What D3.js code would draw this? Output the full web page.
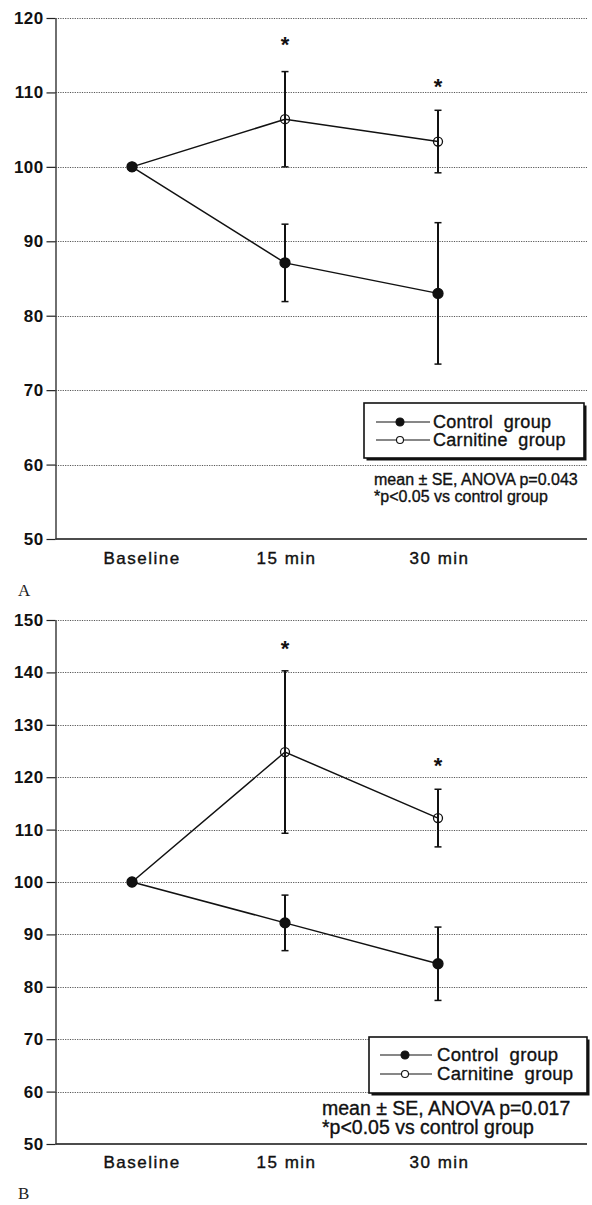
<!DOCTYPE html>
<html>
<head>
<meta charset="utf-8">
<script src="https://cdn.jsdelivr.net/npm/d3@7"></script>
<style>
  body { margin: 0; background: #fff; }
  svg { display: block; }
  text { font-family: "Liberation Sans", Arial, sans-serif; fill: #111; white-space: pre; }
  .heavy { stroke: #111; stroke-width: 0.35px; }
  .tick-label { font-size: 17px; font-weight: bold; letter-spacing: 0.4px; }
  .xlabel { font-size: 17px; letter-spacing: 1.5px; stroke: #111; stroke-width: 0.4px; }
  .grid { stroke: #444; stroke-width: 0.9; stroke-dasharray: 1.2,1.2; }
  .panel-letter { font-family: "Liberation Serif", "Times New Roman", serif; font-size: 17px; fill: #222; }
</style>
</head>
<body>
<script>
// categories (x axis)
const categories = ['Baseline', '15 min', '30 min'];

// panel A
const ticksA = [50, 60, 70, 80, 90, 100, 110, 120];
const controlA = [100, 87.1, 83.0];
const controlSeA = [0, 5.2, 9.5];
const carnitineA = [100, 106.4, 103.4];
const carnitineSeA = [0, 6.4, 4.2];
const starsA = [null, 117.2, 111.6];
const noteA = ['mean \u00b1 SE, ANOVA p=0.043', '*p<0.05 vs control group'];

// panel B
const ticksB = [50, 60, 70, 80, 90, 100, 110, 120, 130, 140, 150];
const controlB = [100, 92.2, 84.4];
const controlSeB = [0, 5.3, 7.0];
const carnitineB = [100, 124.8, 112.2];
const carnitineSeB = [0, 15.5, 5.5];
const starsB = [null, 145.7, 123.3];
const noteB = ['mean \u00b1 SE, ANOVA p=0.017', '*p<0.05 vs control group'];

const legendLabels = ['Control  group', 'Carnitine  group'];

const width = 592;
const height = 1205;

const svg = d3.select('body').append('svg')
  .attr('width', width)
  .attr('height', height);

const x = d3.scalePoint()
  .domain(categories)
  .range([132, 438]);

function drawPanel(opts) {
  const y = d3.scaleLinear()
    .domain([d3.min(opts.ticks), d3.max(opts.ticks)])
    .range([opts.bottom, opts.top]);

  const left = 55.5;
  const right = 587;
  const g = svg.append('g');

  // dotted gridlines
  g.selectAll('.grid')
    .data(opts.ticks.slice(1))
    .enter().append('line')
    .attr('class', 'grid')
    .attr('x1', left)
    .attr('x2', right)
    .attr('y1', d => Math.round(y(d)) + 0.5)
    .attr('y2', d => Math.round(y(d)) + 0.5);

  // baseline (x axis line)
  g.append('line')
    .attr('x1', left)
    .attr('x2', right)
    .attr('y1', y(opts.ticks[0]))
    .attr('y2', y(opts.ticks[0]))
    .attr('stroke', '#111')
    .attr('stroke-width', 1.6);

  // y axis
  const yAxis = g.append('g')
    .attr('transform', `translate(${left},0)`)
    .call(d3.axisLeft(y).tickValues(opts.ticks).tickSize(9).tickSizeOuter(0).tickPadding(3));
  yAxis.select('.domain').attr('stroke', '#333').attr('stroke-width', 1.4);
  yAxis.selectAll('.tick line').attr('stroke', '#222').attr('stroke-width', 1.2);
  yAxis.selectAll('.tick text')
    .attr('class', 'tick-label')
    .attr('fill', '#111')
    .style('font-family', '"Liberation Sans", Arial, sans-serif');

  // x labels
  const xAxis = g.append('g')
    .attr('transform', `translate(0,${y(opts.ticks[0])})`)
    .call(d3.axisBottom(x).tickSize(0).tickPadding(0));
  xAxis.select('.domain').remove();
  xAxis.selectAll('.tick text')
    .attr('class', 'xlabel')
    .attr('text-anchor', 'start')
    .attr('x', -29)
    .attr('y', opts.xLabelDy)
    .attr('dy', 0)
    .attr('fill', '#111')
    .style('font-family', '"Liberation Sans", Arial, sans-serif');

  const line = d3.line()
    .x((d, i) => x(categories[i]))
    .y(d => y(d));

  const series = [
    { values: opts.carnitine, se: opts.carnitineSe, filled: false },
    { values: opts.control, se: opts.controlSe, filled: true },
  ];

  series.forEach((s) => {
    g.append('path')
      .datum(s.values)
      .attr('fill', 'none')
      .attr('stroke', '#111')
      .attr('stroke-width', 1.5)
      .attr('d', line);
  });

  // error bars
  series.forEach((s) => {
    const bars = s.values.map((v, i) => ({ cat: categories[i], v, se: s.se[i] }))
      .filter(d => d.se > 0);
    const eb = g.selectAll(null)
      .data(bars)
      .enter().append('g')
      .attr('stroke', '#111');
    eb.append('line')
      .attr('x1', d => x(d.cat))
      .attr('x2', d => x(d.cat))
      .attr('y1', d => y(d.v - d.se))
      .attr('y2', d => y(d.v + d.se))
      .attr('stroke-width', 2);
    eb.append('line')
      .attr('x1', d => x(d.cat) - 3.5)
      .attr('x2', d => x(d.cat) + 3.5)
      .attr('y1', d => y(d.v + d.se))
      .attr('y2', d => y(d.v + d.se))
      .attr('stroke-width', 1.5);
    eb.append('line')
      .attr('x1', d => x(d.cat) - 3.5)
      .attr('x2', d => x(d.cat) + 3.5)
      .attr('y1', d => y(d.v - d.se))
      .attr('y2', d => y(d.v - d.se))
      .attr('stroke-width', 1.5);
  });

  // markers
  series.forEach((s) => {
    g.selectAll(null)
      .data(s.values)
      .enter().append('circle')
      .attr('cx', (d, i) => x(categories[i]))
      .attr('cy', d => y(d))
      .attr('r', s.filled ? 5 : 4.5)
      .attr('fill', s.filled ? '#111' : 'none')
      .attr('stroke', '#111')
      .attr('stroke-width', 1.3);
  });

  // significance stars
  g.selectAll(null)
    .data(opts.stars.map((v, i) => ({ cat: categories[i], v })).filter(d => d.v !== null))
    .enter().append('text')
    .attr('x', d => x(d.cat))
    .attr('y', d => y(d.v) + 13)
    .attr('text-anchor', 'middle')
    .style('font-size', '22px')
    .style('font-weight', 'bold')
    .text('*');

  // legend
  const lg = svg.append('g')
    .attr('transform', `translate(${opts.legend.x},${opts.legend.y})`);
  lg.append('rect')
    .attr('x', 2.5)
    .attr('y', 2.5)
    .attr('width', opts.legend.w)
    .attr('height', opts.legend.h)
    .attr('fill', '#111');
  lg.append('rect')
    .attr('width', opts.legend.w)
    .attr('height', opts.legend.h)
    .attr('fill', '#fff')
    .attr('stroke', '#111')
    .attr('stroke-width', 1.6);

  legendLabels.forEach((label, i) => {
    const ry = opts.legend.row0 + i * opts.legend.rowGap;
    lg.append('line')
      .attr('x1', opts.legend.lineX0)
      .attr('x2', opts.legend.lineX1)
      .attr('y1', ry)
      .attr('y2', ry)
      .attr('stroke', '#111')
      .attr('stroke-width', 1.2);
    lg.append('circle')
      .attr('cx', opts.legend.markX)
      .attr('cy', ry)
      .attr('r', i === 0 ? 4 : 3.5)
      .attr('fill', i === 0 ? '#111' : '#fff')
      .attr('stroke', '#111')
      .attr('stroke-width', 1.1);
    lg.append('text')
      .attr('class', 'heavy')
      .attr('x', opts.legend.textX)
      .attr('y', ry + 6)
      .style('font-size', opts.legend.fontSize)
      .style('letter-spacing', '0.3px')
      .text(label);
  });

  // notes
  opts.note.forEach((t, i) => {
    svg.append('text')
      .attr('class', 'heavy')
      .attr('x', opts.noteX)
      .attr('y', opts.noteY + i * opts.noteGap)
      .style('font-size', opts.noteSize)
      .text(t);
  });

  // panel letter
  svg.append('text')
    .attr('class', 'panel-letter')
    .attr('x', 18)
    .attr('y', opts.letterY)
    .text(opts.letter);
}

drawPanel({
  ticks: ticksA,
  top: 18,
  bottom: 539,
  control: controlA,
  controlSe: controlSeA,
  carnitine: carnitineA,
  carnitineSe: carnitineSeA,
  stars: starsA,
  xLabelDy: 25,
  legend: { x: 364, y: 403, w: 220, h: 55, row0: 19, rowGap: 18, lineX0: 12, lineX1: 66, markX: 36, textX: 69, fontSize: '18px' },
  note: noteA,
  noteX: 374,
  noteY: 485,
  noteGap: 17,
  noteSize: '16px',
  letter: 'A',
  letterY: 596,
});

drawPanel({
  ticks: ticksB,
  top: 620,
  bottom: 1144,
  control: controlB,
  controlSe: controlSeB,
  carnitine: carnitineB,
  carnitineSe: carnitineSeB,
  stars: starsB,
  xLabelDy: 24,
  legend: { x: 369, y: 1037, w: 218, h: 56, row0: 18, rowGap: 19, lineX0: 11, lineX1: 63, markX: 36, textX: 68, fontSize: '18.5px' },
  note: noteB,
  noteX: 322,
  noteY: 1115,
  noteGap: 19,
  noteSize: '19.5px',
  letter: 'B',
  letterY: 1199,
});
</script>
</body>
</html>
